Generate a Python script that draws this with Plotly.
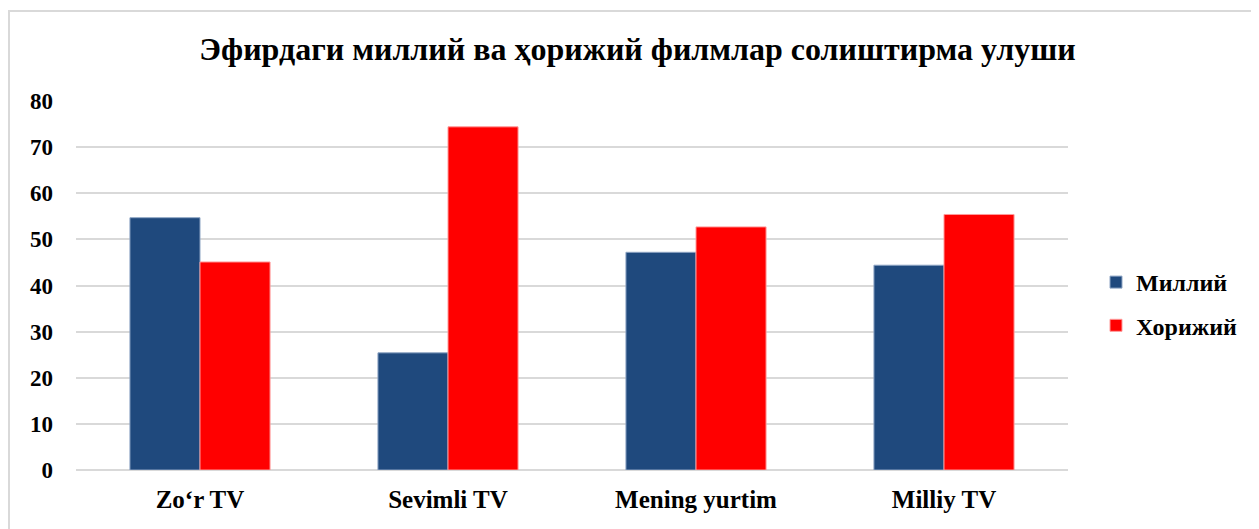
import plotly.graph_objects as go

categories = ["Zo‘r TV", "Sevimli TV", "Mening yurtim", "Milliy TV"]
milliy = [54.7, 25.4, 47.2, 44.4]
xorijiy = [45.1, 74.4, 52.7, 55.4]
series_names = ["Миллий", "Хорижий"]
title_text = "Эфирдаги миллий ва ҳорижий филмлар солиштирма улуши"
y_ticks = [0, 10, 20, 30, 40, 50, 60, 70, 80]

FONT = "Liberation Serif"
OFF = 8  # page body margin

fig = go.Figure()
fig.add_trace(go.Bar(x=categories, y=milliy, name="<b>" + series_names[0] + "</b>",
                     marker=dict(color="#1F497D", line=dict(color="#8EA5C4", width=1)),
                     legendgroup="a"))
fig.add_trace(go.Bar(x=categories, y=xorijiy, name="<b>" + series_names[1] + "</b>",
                     marker=dict(color="#FF0000", line=dict(color="#FF9A9A", width=1)),
                     legendgroup="b"))

W, H = 1259, 529
L, T = 76 - OFF, 101 - OFF
pw = 992
bottom_px = 470 - OFF
ph = bottom_px - T
B = H - bottom_px

def px(x):
    return (x - OFF - L) / pw

def py(y):
    return (bottom_px - (y - OFF)) / ph

fig.update_layout(
    width=W, height=H,
    margin=dict(l=L, r=W - L - pw, t=T, b=B),
    paper_bgcolor="white", plot_bgcolor="white",
    barmode="group", bargap=0.435, bargroupgap=0,
    title=dict(text="<b>" + title_text + "</b>", x=0.5, xanchor="center",
               y=1 - (49 - OFF) / H, yanchor="middle",
               font=dict(family=FONT, size=32, color="black")),
    font=dict(family=FONT, color="black"),
    xaxis=dict(tickfont=dict(family=FONT, size=25, color="black"),
               tickvals=categories, ticktext=["<b>" + c + "</b>" for c in categories],
               showgrid=False, showline=False, ticks="", ticklabelstandoff=12),
    yaxis=dict(range=[0, 80], tickvals=y_ticks,
               ticktext=["<b>" + str(v) + "</b>" for v in y_ticks],
               tickfont=dict(family=FONT, size=23, color="black"),
               showgrid=True, gridcolor="#D9D9D9", gridwidth=2,
               zeroline=True, zerolinecolor="#D9D9D9", zerolinewidth=2,
               showline=False, ticks="", ticklabelstandoff=22),
    legend=dict(x=px(1096), y=py(260), xanchor="left", yanchor="top",
                font=dict(family=FONT, size=24, color="black"),
                traceorder="grouped", tracegroupgap=9,
                itemwidth=30, bgcolor="rgba(0,0,0,0)"),
    shapes=[dict(type="rect", xref="paper", yref="paper",
                 x0=px(9), x1=px(1300), y0=py(560), y1=py(11),
                 line=dict(color="#D9D9D9", width=2), layer="below")],
)

fig.write_html("out.html")
